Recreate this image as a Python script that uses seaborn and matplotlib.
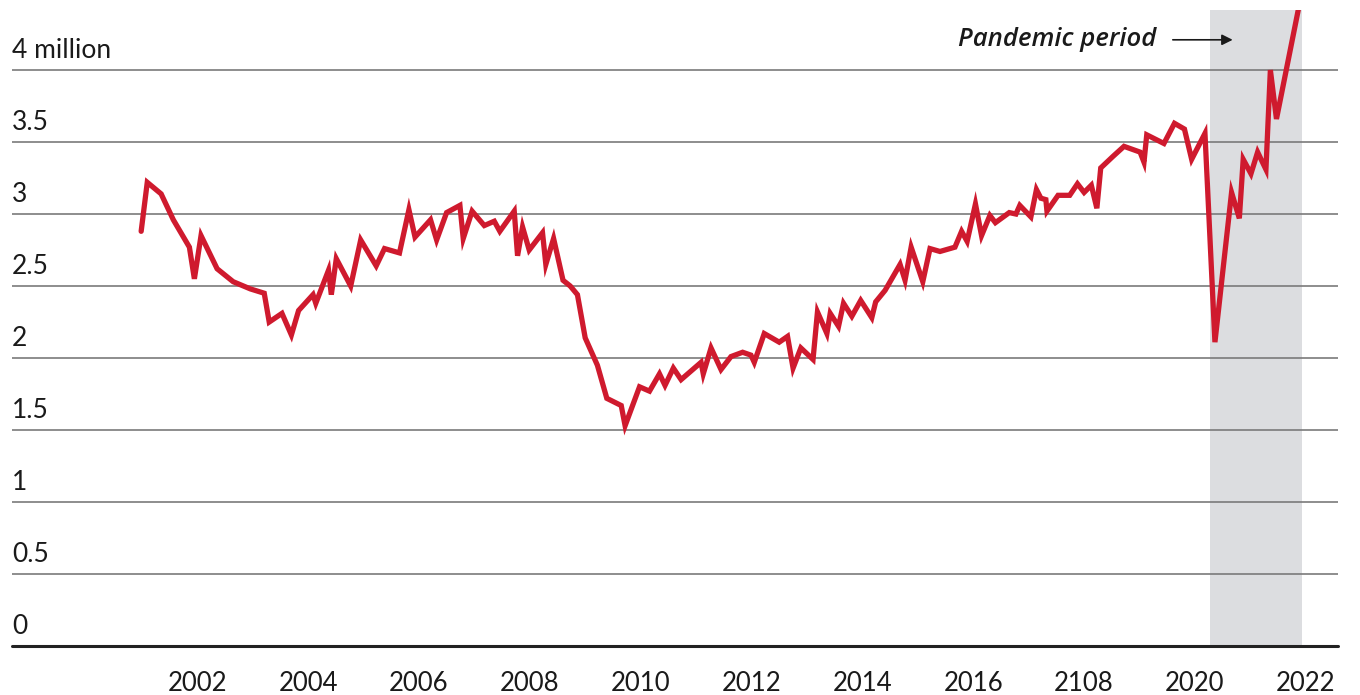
import pandas as pd
import matplotlib.pyplot as plt
import seaborn as sns

# ----------------------------- #
#  Data (millions)
# ----------------------------- #
years = [
    2000.99, 2001.10, 2001.35, 2001.57, 2001.86, 2001.95, 2002.07, 2002.36, 2002.65, 2002.96,
    2003.21, 2003.30, 2003.53, 2003.70, 2003.83, 2004.09, 2004.14, 2004.37, 2004.42, 2004.51,
    2004.77, 2004.95, 2005.23, 2005.38, 2005.65, 2005.82, 2005.93, 2006.21, 2006.32, 2006.50,
    2006.74, 2006.80, 2006.96, 2007.18, 2007.36, 2007.46, 2007.72, 2007.78, 2007.87, 2007.99,
    2008.23, 2008.29, 2008.43, 2008.60, 2008.73, 2008.86, 2009.00, 2009.22, 2009.39, 2009.65,
    2009.72, 2009.98, 2010.16, 2010.34, 2010.44, 2010.59, 2010.73, 2011.09, 2011.13, 2011.27,
    2011.45, 2011.63, 2011.84, 2011.99, 2012.05, 2012.23, 2012.50, 2012.65, 2012.75, 2012.89,
    2013.11, 2013.19, 2013.36, 2013.42, 2013.57, 2013.66, 2013.81, 2013.97, 2014.17, 2014.24,
    2014.41, 2014.68, 2014.77, 2014.88, 2015.09, 2015.22, 2015.40, 2015.67, 2015.79, 2015.89,
    2016.04, 2016.15, 2016.30, 2016.40, 2016.65, 2016.77, 2016.84, 2017.04, 2017.14, 2017.22,
    2017.31, 2017.33, 2017.53, 2017.74, 2017.88, 2018.00, 2018.13, 2018.23, 2018.30, 2018.52,
    2018.72, 2019.01, 2019.08, 2019.13, 2019.44, 2019.63, 2019.81, 2019.94, 2020.18, 2020.36,
    2020.66, 2020.80, 2020.87, 2021.01, 2021.13, 2021.28, 2021.36, 2021.47, 2021.88,
]
quits = [
    2.88, 3.22, 3.14, 2.96, 2.77, 2.55, 2.85, 2.62, 2.53, 2.48,
    2.45, 2.25, 2.31, 2.16, 2.33, 2.44, 2.38, 2.61, 2.44, 2.69,
    2.50, 2.82, 2.64, 2.76, 2.73, 3.03, 2.84, 2.96, 2.82, 3.01,
    3.06, 2.83, 3.02, 2.92, 2.95, 2.88, 3.02, 2.71, 2.91, 2.75,
    2.87, 2.65, 2.83, 2.54, 2.50, 2.44, 2.14, 1.95, 1.72, 1.67,
    1.53, 1.80, 1.77, 1.89, 1.81, 1.93, 1.85, 1.97, 1.89, 2.07,
    1.92, 2.01, 2.04, 2.02, 1.97, 2.17, 2.11, 2.15, 1.93, 2.07,
    1.99, 2.32, 2.17, 2.31, 2.22, 2.38, 2.29, 2.40, 2.28, 2.39,
    2.47, 2.65, 2.54, 2.77, 2.53, 2.76, 2.74, 2.77, 2.88, 2.81,
    3.07, 2.85, 2.99, 2.94, 3.01, 3.00, 3.06, 2.98, 3.17, 3.11,
    3.10, 3.02, 3.13, 3.13, 3.21, 3.15, 3.20, 3.04, 3.32, 3.40,
    3.47, 3.43, 3.36, 3.55, 3.49, 3.63, 3.59, 3.38, 3.56, 2.11,
    3.15, 2.97, 3.38, 3.28, 3.43, 3.31, 4.00, 3.66, 4.45,
]

tick_years = [2002, 2004, 2006, 2008, 2010, 2012, 2014, 2016, 2018, 2020, 2022]
tick_labels = ['2002', '2004', '2006', '2008', '2010', '2012', '2014', '2016', '2108', '2020', '2022']
grid_values = [0, 0.5, 1, 1.5, 2, 2.5, 3, 3.5, 4]
grid_labels = ['0', '0.5', '1', '1.5', '2', '2.5', '3', '3.5', '4 million']
pandemic_span = (2020.27, 2021.93)

df = pd.DataFrame({'Year': years, 'Quits': quits})

# ----------------------------- #
#  Style
# ----------------------------- #
sns.set_theme(style='white')
plt.rcParams['font.family'] = ['Lato', 'DejaVu Sans']

fig = plt.figure(figsize=(13.6, 6.95), dpi=100)
ax = fig.add_axes([12 / 1360, 1 - 646 / 695, 1326 / 1360, 636 / 695])

# shaded pandemic period
ax.axvspan(*pandemic_span, color='#dcdde0', lw=0, zorder=0)

# gridlines
for v in grid_values[1:]:
    ax.axhline(v, color='#7a7a7a', lw=1.2, zorder=1)
ax.axhline(0, color='#222222', lw=2.2, zorder=3, clip_on=False)

sns.lineplot(data=df, x='Year', y='Quits', ax=ax, color='#cf1a2e', lw=3.8,
             zorder=2, sort=False)
ax.lines[-1].set_solid_joinstyle('miter')

ax.set_xlim(1998.66, 2022.58)
ax.set_ylim(0, 4.417)

# y labels sit above their gridlines
ax.set_yticks([])
for v, lab in zip(grid_values, grid_labels):
    ax.annotate(lab, xy=(0, v), xycoords=ax.get_yaxis_transform(),
                xytext=(0, 5), textcoords='offset points',
                ha='left', va='bottom', fontsize=19, color='#1a1a1a')

ax.set_xticks(tick_years)
ax.set_xticklabels(tick_labels, fontsize=18.5, color='#1a1a1a')
ax.tick_params(axis='x', length=0, pad=18)
ax.set_xlabel('')
ax.set_ylabel('')
for s in ax.spines.values():
    s.set_visible(False)

# annotation
ax.annotate('', xy=(2020.68, 4.21), xytext=(2019.60, 4.21),
            arrowprops=dict(arrowstyle='-|>', color='#1a1a1a', lw=1.2,
                            mutation_scale=16, shrinkA=0, shrinkB=0))
ax.text(2019.31, 4.21, 'Pandemic period', ha='right', va='center',
        fontsize=18.5, style='italic', family=['Open Sans', 'DejaVu Sans'],
        fontweight='semibold', color='#1a1a1a')

fig.savefig('out.png', dpi=100)
